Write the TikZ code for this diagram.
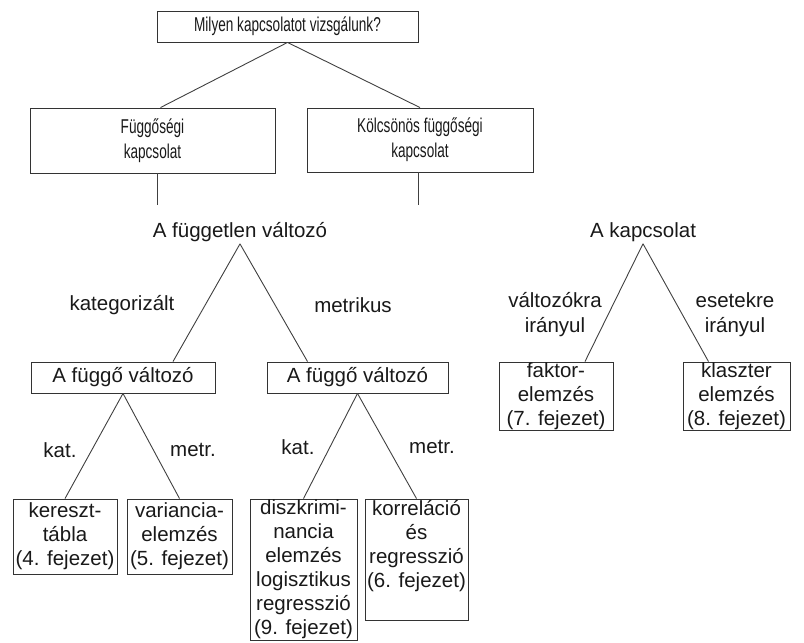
\documentclass[tikz,border=0pt]{standalone}
\usepackage{fontspec}
\setmainfont{Liberation Sans}
\newfontfamily\narrowfont[FakeStretch=0.68]{Liberation Sans}
\usetikzlibrary{calc}

\tikzset{
  box/.style={draw=black!80, line width=0.9pt, align=center, inner sep=0pt, text=black!90, font=\fontsize{20.5}{24}\selectfont},
  bigbox/.style={draw=black!80, line width=0.9pt, align=center, inner sep=0pt, text=black!90, font=\narrowfont\fontsize{20}{25}\selectfont},
  lbl/.style={inner sep=2pt, align=center, text=black!90, font=\fontsize{20.5}{25}\selectfont},
  branch/.style={line width=0.9pt, black!75},
}

\begin{document}
\begin{tikzpicture}[x=1pt, y=-1pt]
                    \useasboundingbox (0,0) rectangle (804,643);
                    % Top question and the two kinds of relation
                    \node[bigbox, minimum width=261pt, minimum height=31pt] (kerdes) at (287.5,26.5) {Milyen kapcsolatot vizsgálunk?};
                    \node[bigbox, minimum width=245pt, minimum height=65pt] (fuggo) at (152.5,140.5) {Függőségi\\kapcsolat};
                    \node[bigbox, minimum width=226pt, minimum height=64pt] (kolcson) at (420,140) {Kölcsönös függőségi\\kapcsolat};
                    \draw[branch] (kerdes.south) -- ($(fuggo.north)+(8,0)$);
                    \draw[branch] (kerdes.south) -- (kolcson.north);

                    % Dependence branch
                    \node[lbl] (fuggetlen) at (240,232) {A független változó};
                    \coordinate (fuggoalj) at (157,205);
                    \draw[branch] (fuggo.south -| fuggoalj) -- (fuggoalj);
                    \node[lbl] (kategor) at (122,305) {kategorizált};
                    \node[lbl] (metrik) at (353,305) {metrikus};
                    \node[box, minimum width=184pt, minimum height=31pt] (fv1) at (123,377.5) {A függő változó};
                    \node[box, minimum width=181pt, minimum height=31pt] (fv2) at (357.5,377.5) {A függő változó};
                    \draw[branch] (fuggetlen.south) -- ($(fv1.north)+(50,0)$);
                    \draw[branch] (fuggetlen.south) -- ($(fv2.north)+(-50,0)$);

                    % Methods under the dependent variable
                    \node[lbl] (kat1) at (60,450) {kat.};
                    \node[lbl] (metr1) at (193,450) {metr.};
                    \node[lbl] (kat2) at (298,447) {kat.};
                    \node[lbl] (metr2) at (432,447) {metr.};
                    \node[box, minimum width=104pt, minimum height=75pt] (kereszt) at (65,536.5) {kereszt-\\tábla\\(4. fejezet)};
                    \node[box, minimum width=105pt, minimum height=75pt] (variancia) at (179.5,536.5) {variancia-\\elemzés\\(5. fejezet)};
                    \node[box, minimum width=107pt, minimum height=141pt] (diszkr) at (303.5,569.5) {diszkrimi-\\nancia\\elemzés\\logisztikus\\regresszió\\(9. fejezet)};
                    \node[box, minimum width=103pt, minimum height=121pt] (korrel) at (416.5,559.5) {korreláció\\és\\regresszió\\(6. fejezet)\\\strut};
                    \draw[branch] (fv1.south) -- (kereszt.north);
                    \draw[branch] (fv1.south) -- (variancia.north);
                    \draw[branch] (fv2.south) -- (diszkr.north);
                    \draw[branch] (fv2.south) -- (korrel.north);

                    % Interdependence branch
                    \node[lbl] (kapcs) at (643,232) {A kapcsolat};
                    \coordinate (kolcsonalj) at (418,205);
                    \draw[branch] (kolcson.south -| kolcsonalj) -- (kolcsonalj);
                    \node[lbl] (valtozokra) at (555,315) {változókra\\irányul};
                    \node[lbl] (esetekre) at (735,315) {esetekre\\irányul};
                    \node[box, minimum width=114pt, minimum height=68pt] (faktor) at (556,396) {faktor-\\elemzés\\(7. fejezet)};
                    \node[box, minimum width=107pt, minimum height=68pt] (klaszter) at (736.5,396) {klaszter\\elemzés\\(8. fejezet)};
                    \draw[branch] (kapcs.south) -- ($(faktor.north)+(29,0)$);
                    \draw[branch] (kapcs.south) -- ($(klaszter.north)+(-28,0)$);
                \end{tikzpicture}
\end{document}
